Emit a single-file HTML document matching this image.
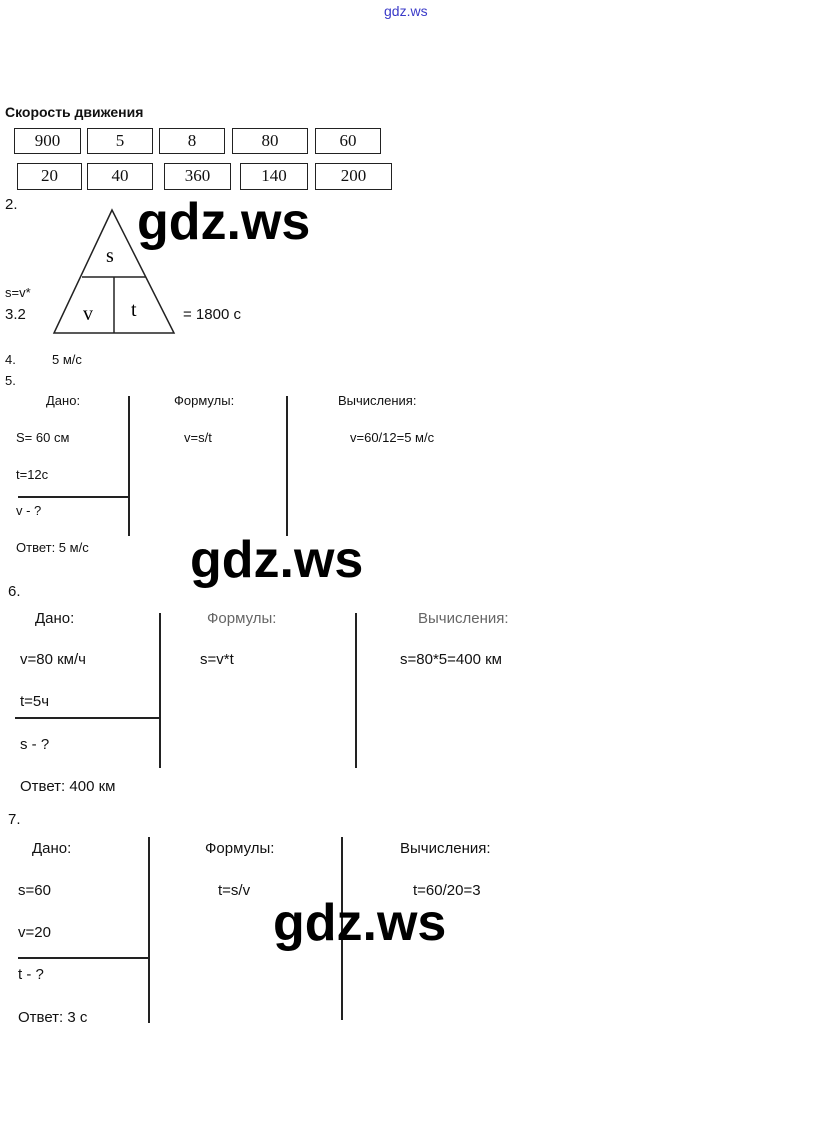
<!DOCTYPE html>
<html><head><meta charset="utf-8"><style>
body{margin:0;width:823px;height:1139px;background:#fff;position:relative;overflow:hidden;font-family:"Liberation Sans",sans-serif;color:#111}
.t{position:absolute;white-space:nowrap;line-height:1}
.s13{font-size:13px}.s15{font-size:15px}
.b{position:absolute;border:1.5px solid #222;box-sizing:border-box;text-align:center;font-family:"Liberation Serif",serif;font-size:17px;line-height:24px}
.v{position:absolute;width:1.5px;background:#222}
.h{position:absolute;height:1.5px;background:#222}
.big{position:absolute;font-size:52px;font-weight:bold;line-height:1;color:#000;font-family:"Liberation Sans",sans-serif}
</style></head><body>
<div class="t" style="left:384px;top:4px;font-size:14px;color:#3a3ac8">gdz.ws</div>
<div class="t" style="left:5px;top:105px;font-size:14px;font-weight:bold">Скорость движения</div>

<div class="b" style="left:14px;top:128px;width:67px;height:26px">900</div>
<div class="b" style="left:87px;top:128px;width:66px;height:26px">5</div>
<div class="b" style="left:159px;top:128px;width:66px;height:26px">8</div>
<div class="b" style="left:232px;top:128px;width:76px;height:26px">80</div>
<div class="b" style="left:315px;top:128px;width:66px;height:26px">60</div>
<div class="b" style="left:17px;top:163px;width:65px;height:27px">20</div>
<div class="b" style="left:87px;top:163px;width:66px;height:27px">40</div>
<div class="b" style="left:164px;top:163px;width:67px;height:27px">360</div>
<div class="b" style="left:240px;top:163px;width:68px;height:27px">140</div>
<div class="b" style="left:315px;top:163px;width:77px;height:27px">200</div>

<div class="t s15" style="left:5px;top:197px">2.</div>
<svg style="position:absolute;left:0;top:0" width="823" height="1139">
<polygon points="112,210 54,333 174,333" fill="none" stroke="#222" stroke-width="1.5"/>
<line x1="82" y1="277" x2="146" y2="277" stroke="#222" stroke-width="1.5"/>
<line x1="114" y1="277" x2="114" y2="333" stroke="#222" stroke-width="1.5"/>
<text x="106" y="262" font-family="Liberation Serif" font-size="20">s</text>
<text x="83" y="320" font-family="Liberation Serif" font-size="20">v</text>
<text x="131" y="316" font-family="Liberation Serif" font-size="20">t</text>
</svg>
<div class="big" style="left:137px;top:196px">gdz.ws</div>
<div class="t s13" style="left:5px;top:286px">s=v*</div>
<div class="t s15" style="left:5px;top:307px">3.2</div>
<div class="t s15" style="left:183px;top:307px">= 1800 с</div>
<div class="t s13" style="left:5px;top:353px">4.</div>
<div class="t s13" style="left:52px;top:353px">5 м/с</div>
<div class="t s13" style="left:5px;top:374px">5.</div>

<div class="t s13" style="left:46px;top:394px">Дано:</div>
<div class="t s13" style="left:174px;top:394px">Формулы:</div>
<div class="t s13" style="left:338px;top:394px">Вычисления:</div>
<div class="t s13" style="left:16px;top:431px">S= 60 см</div>
<div class="t s13" style="left:184px;top:431px">v=s/t</div>
<div class="t s13" style="left:350px;top:431px">v=60/12=5 м/с</div>
<div class="t s13" style="left:16px;top:468px">t=12с</div>
<div class="h" style="left:18px;top:496px;width:112px"></div>
<div class="t s13" style="left:16px;top:504px">v - ?</div>
<div class="t s13" style="left:16px;top:541px">Ответ: 5 м/с</div>
<div class="v" style="left:128px;top:396px;height:140px"></div>
<div class="v" style="left:286px;top:396px;height:140px"></div>
<div class="big" style="left:190px;top:534px">gdz.ws</div>

<div class="t s15" style="left:8px;top:584px">6.</div>
<div class="t s15" style="left:35px;top:611px">Дано:</div>
<div class="t s15" style="left:207px;top:611px;color:#666">Формулы:</div>
<div class="t s15" style="left:418px;top:611px;color:#666">Вычисления:</div>
<div class="t s15" style="left:20px;top:652px">v=80 км/ч</div>
<div class="t s15" style="left:200px;top:652px">s=v*t</div>
<div class="t s15" style="left:400px;top:652px">s=80*5=400 км</div>
<div class="t s15" style="left:20px;top:694px">t=5ч</div>
<div class="h" style="left:15px;top:717px;width:145px"></div>
<div class="t s15" style="left:20px;top:737px">s - ?</div>
<div class="t s15" style="left:20px;top:779px">Ответ: 400 км</div>
<div class="v" style="left:159px;top:613px;height:155px"></div>
<div class="v" style="left:355px;top:613px;height:155px"></div>

<div class="t s15" style="left:8px;top:812px">7.</div>
<div class="t s15" style="left:32px;top:841px">Дано:</div>
<div class="t s15" style="left:205px;top:841px">Формулы:</div>
<div class="t s15" style="left:400px;top:841px">Вычисления:</div>
<div class="t s15" style="left:18px;top:883px">s=60</div>
<div class="t s15" style="left:218px;top:883px">t=s/v</div>
<div class="t s15" style="left:413px;top:883px">t=60/20=3</div>
<div class="t s15" style="left:18px;top:925px">v=20</div>
<div class="h" style="left:18px;top:957px;width:130px"></div>
<div class="t s15" style="left:18px;top:967px">t - ?</div>
<div class="t s15" style="left:18px;top:1010px">Ответ: 3 с</div>
<div class="v" style="left:148px;top:837px;height:186px"></div>
<div class="v" style="left:341px;top:837px;height:183px"></div>
<div class="big" style="left:273px;top:897px">gdz.ws</div>
</body></html>
